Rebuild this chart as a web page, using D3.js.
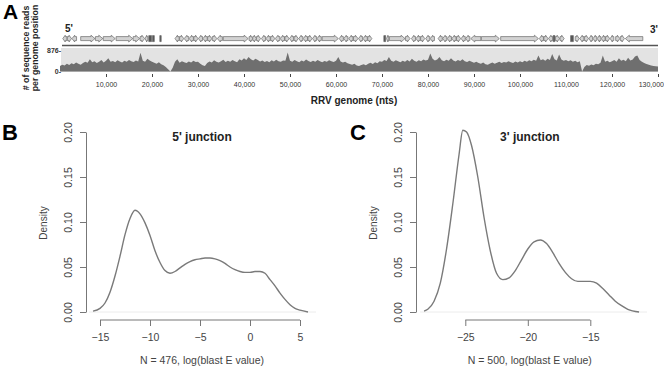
<!DOCTYPE html>
<html><head><meta charset="utf-8">
<script src="https://cdn.jsdelivr.net/npm/d3@7"></script>
<style>
html,body{margin:0;padding:0;background:#fff;}
text{font-family:"Liberation Sans",Arial,sans-serif;}
</style></head>
<body><svg id="c" width="664" height="372"></svg>
<script>
// ---------- DATA ----------
// Panel A: coverage (reads per position), one value every 500 nt, 0..130,000
const coverageStep = 500;
const coverage = [
 210,260,230,300,250,320,280,350,300,260,330,380,340,480,360,400,330,380,450,350,
 420,520,380,410,360,440,390,350,420,380,450,400,370,430,390,730,420,380,500,430,
 380,340,300,360,280,240,180,90,0,150,380,480,340,400,360,330,390,350,420,370,
 380,300,240,210,330,390,350,440,380,350,400,460,370,420,380,450,400,360,480,430,
 520,450,560,480,430,500,450,390,430,370,410,360,440,390,460,400,380,430,420,740,
 420,380,450,400,360,430,390,470,410,370,420,380,450,400,360,410,380,440,400,370,
 420,560,390,350,380,320,290,260,300,230,210,250,280,240,300,340,290,360,320,400,
 380,450,410,560,420,380,440,400,360,420,380,450,390,500,420,380,440,400,470,430,
 460,700,500,430,470,560,440,400,460,420,520,430,390,450,410,480,400,370,420,380,
 340,380,330,300,350,280,260,310,350,300,340,380,330,370,350,400,360,330,390,350,
 400,360,420,380,440,400,460,420,620,440,480,420,500,450,680,480,430,660,470,420,
 450,400,440,380,420,360,400,0,180,250,220,270,240,300,280,340,620,380,420,360,
 400,450,380,520,420,460,400,540,430,470,580,620,450,380,330,290,260,230,210,200,
 190
];
const coverageMax = 876;
const genomeTicks = [10000,20000,30000,40000,50000,60000,70000,80000,90000,100000,110000,120000,130000];
// genes: start kb, end kb, strand (1 / -1), 0 = dark block
const geneStart = [0.6,1.6,2.6,4.5,7.7,9.4,12.2,15.9,17.4,18.5,19.3,20.1,21.7,
 25.0,26.0,27.0,28.1,29.1,30.1,31.1,32.1,33.1,34.2,35.5,41.1,41.9,42.7,43.8,44.8,45.8,46.8,47.9,48.9,49.9,50.9,51.9,52.9,53.9,54.9,55.9,57.0,60.7,61.7,62.8,63.8,64.9,65.9,66.9,
 70.4,71.0,71.6,75.1,76.4,77.4,78.4,79.5,80.5,82.2,83.2,84.2,85.2,86.2,87.2,88.2,89.3,91.6,95.8,
 104.2,105.2,106.2,107.2,107.7,108.7,111.0,112.0,113.0,114.0,115.0,115.9,116.8,117.7,118.6,119.6,120.8,121.8,122.9];
const geneEnd = [1.5,2.5,3.6,7.6,9.3,12.0,15.8,17.3,18.4,19.1,19.9,20.5,22.0,
 25.9,26.9,28.0,29.0,30.0,31.0,32.0,33.0,34.1,35.3,40.9,41.9,42.7,43.6,44.7,45.7,46.7,47.8,48.8,49.8,50.8,51.8,52.8,53.8,54.8,55.8,56.8,60.5,61.6,62.6,63.7,64.8,65.8,66.8,67.8,
 70.8,71.5,75.0,76.1,77.3,78.3,79.3,80.4,81.4,83.1,84.1,85.1,86.1,87.1,88.1,89.1,91.5,95.5,104.0,
 105.1,106.1,107.1,107.6,108.6,109.6,111.6,112.9,113.9,114.9,115.8,116.7,117.6,118.5,119.5,120.4,121.7,122.7,126.7];
const geneStrand = [-1,1,-1,1,1,1,1,1,1,-1,0,0,0,
 -1,1,-1,-1,1,-1,-1,1,1,-1,1,1,1,1,-1,-1,1,-1,-1,1,-1,1,-1,-1,1,-1,-1,1,-1,-1,-1,1,-1,-1,1,
 0,-1,1,1,-1,-1,1,-1,-1,-1,-1,-1,-1,1,-1,-1,-1,1,1,
 -1,1,-1,0,1,1,0,1,-1,1,-1,-1,-1,-1,1,-1,1,1,-1];

// Panel B: 5' junction density
const bX = [-15.7,-15,-14.5,-14,-13.5,-13,-12.5,-12,-11.5,-11,-10.5,-10,-9.5,-9,-8.5,-8,-7.5,-7,-6.5,-6,-5.5,-5,-4.5,-4,-3.5,-3,-2.5,-2,-1.5,-1,-0.5,0,0.5,1,1.5,2,2.5,3,3.5,4,4.5,5,5.8];
const bY = [0.001,0.004,0.010,0.022,0.040,0.062,0.086,0.104,0.113,0.109,0.099,0.085,0.068,0.055,0.046,0.043,0.045,0.049,0.053,0.056,0.058,0.059,0.060,0.060,0.059,0.057,0.054,0.050,0.047,0.045,0.044,0.044,0.045,0.045,0.043,0.036,0.029,0.021,0.014,0.008,0.004,0.002,0.0];
const bTicks = [-15,-10,-5,0,5];
// Panel C: 3' junction density
const cX = [-28.3,-28,-27.5,-27,-26.5,-26,-25.5,-25.2,-24.9,-24.5,-24,-23.5,-23,-22.5,-22,-21.5,-21,-20.5,-20,-19.5,-19,-18.5,-18,-17.5,-17,-16.5,-16,-15.5,-15,-14.5,-14,-13.5,-13,-12.5,-12,-11.1];
const cY = [0.001,0.003,0.012,0.032,0.070,0.120,0.175,0.202,0.200,0.185,0.150,0.105,0.068,0.043,0.036,0.038,0.046,0.058,0.070,0.078,0.080,0.076,0.066,0.054,0.044,0.037,0.034,0.034,0.034,0.032,0.026,0.019,0.012,0.007,0.003,0.0];
const cTicks = [-25,-20,-15];
const yTicks = [0,0.05,0.10,0.15,0.20];

// ---------- DRAW ----------
const svg = d3.select("#c");
svg.append("rect").attr("width",664).attr("height",372).attr("fill","#fff");

// Panel A
const gx = d3.scaleLinear().domain([0,130000]).range([60,658]);
const cyS = d3.scaleLinear().domain([0,coverageMax]).range([71.5,49]);
svg.append("text").attr("x",3).attr("y",19).attr("font-size",21).attr("font-weight","bold").text("A");
svg.append("text").attr("transform","translate(28.5,48) rotate(-90)").attr("text-anchor","middle")
  .attr("font-size",8.8).attr("font-weight","bold").attr("fill","#222").text("# of sequence reads");
svg.append("text").attr("transform","translate(38,48) rotate(-90)").attr("text-anchor","middle")
  .attr("font-size",8.8).attr("font-weight","bold").attr("fill","#222").text("per genome position");
svg.append("text").attr("x",65).attr("y",32).attr("font-size",10).attr("font-weight","bold").attr("fill","#222").text("5'");
svg.append("text").attr("x",650).attr("y",33).attr("font-size",10).attr("font-weight","bold").attr("fill","#222").text("3'");

// genes
const gy = 38.6;
const genes = geneStart.map((s,i)=>({s:s*1000,e:geneEnd[i]*1000,st:geneStrand[i]}));
svg.append("g").selectAll("path").data(genes).join("path")
  .attr("d",d=>{
    const x1=gx(d.s), x2=gx(d.e), L=x2-x1;
    if(d.st===0) return `M${x1},${gy-3}H${x2}V${gy+3}H${x1}Z`;
    const h=Math.min(4,L*0.6), b=2, hh=3.4;
    if(d.st===1) return `M${x1},${gy-b}L${x2-h},${gy-b}L${x2-h},${gy-hh}L${x2},${gy}L${x2-h},${gy+hh}L${x2-h},${gy+b}L${x1},${gy+b}Z`;
    return `M${x2},${gy-b}L${x1+h},${gy-b}L${x1+h},${gy-hh}L${x1},${gy}L${x1+h},${gy+hh}L${x1+h},${gy+b}L${x2},${gy+b}Z`;
  })
  .attr("fill",d=>d.st===0?"#555":"#d2d2d2").attr("stroke","#6a6a6a").attr("stroke-width",0.7);
svg.append("line").attr("x1",62).attr("x2",658).attr("y1",45.5).attr("y2",45.5).attr("stroke","#555").attr("stroke-width",1.4);

// coverage band
svg.append("rect").attr("x",61).attr("y",48).attr("width",597).attr("height",24).attr("fill","#e3e3e3");
const area = d3.area().x((d,i)=>gx(i*coverageStep)).y0(cyS(0)).y1(d=>cyS(d));
svg.append("path").datum(coverage).attr("d",area).attr("fill","#6f6f6f");
svg.append("text").attr("x",61).attr("y",52.5).attr("text-anchor","end").attr("font-size",7).attr("font-weight","bold").attr("fill","#333").text("876-");
svg.append("text").attr("x",61).attr("y",73.5).attr("text-anchor","end").attr("font-size",7).attr("font-weight","bold").attr("fill","#333").text("0-");
const ax = svg.append("g").attr("transform","translate(0,74)")
  .call(d3.axisBottom(gx).tickValues(genomeTicks).tickSize(3).tickSizeOuter(0).tickPadding(5).tickFormat(d3.format(",")));
ax.select(".domain").remove();
ax.selectAll("line").attr("stroke","#444");
ax.selectAll("text").attr("font-size",7).attr("fill","#333").attr("font-family","Liberation Sans, Arial, sans-serif");
ax.selectAll("text").filter(d=>d===130000).attr("text-anchor","end").attr("x",5.5);
svg.append("text").attr("x",354).attr("y",104).attr("text-anchor","middle").attr("font-size",10).attr("font-weight","bold").attr("fill","#222").text("RRV genome (nts)");

// density panels
const yS = d3.scaleLinear().domain([0,0.2]).range([312,132]);
function densityPanel(letter, lx, axisX, xs, ticks, tx, ty, title, xlab){
  svg.append("text").attr("x",lx).attr("y",140).attr("font-size",22).attr("font-weight","bold").text(letter);
  // zero line
  svg.append("line").attr("x1",xs(tx[0])-4).attr("x2",xs(tx[tx.length-1])+8).attr("y1",yS(0)).attr("y2",yS(0)).attr("stroke","#ececec");
  // y axis
  const ya = svg.append("g").attr("transform",`translate(${axisX},0)`)
    .call(d3.axisLeft(yS).tickValues(yTicks).tickSize(6).tickSizeOuter(0).tickFormat(d3.format(".2f")));
  ya.select(".domain").attr("stroke","#777");
  ya.selectAll("line").attr("stroke","#777");
  ya.selectAll("text").attr("x",0).attr("dy",0).attr("transform","translate(-14,0) rotate(-90)")
    .attr("text-anchor","middle").attr("font-size",10.5).attr("fill","#444").attr("font-family","Liberation Sans, Arial, sans-serif");
  // x axis
  const xa = svg.append("g").attr("transform","translate(0,320)")
    .call(d3.axisBottom(xs).tickValues(ticks).tickSize(6).tickSizeOuter(0).tickPadding(8).tickFormat(d=>String(d).replace("-","\u2212")));
  xa.select(".domain").remove();
  xa.append("line").attr("x1",xs(ticks[0])).attr("x2",xs(ticks[ticks.length-1])).attr("stroke","#777");
  xa.selectAll("line").attr("stroke","#777");
  xa.selectAll("text").attr("font-size",10.5).attr("fill","#444").attr("font-family","Liberation Sans, Arial, sans-serif");
  // curve
  const line = d3.line().x((d,i)=>xs(tx[i])).y(d=>yS(d)).curve(d3.curveMonotoneX);
  svg.append("path").datum(ty).attr("d",line).attr("fill","none").attr("stroke","#7a7a7a").attr("stroke-width",1.4);
  const cx = (xs(ticks[0])+xs(ticks[ticks.length-1]))/2;
  svg.append("text").attr("x",cx+2).attr("y",141).attr("text-anchor","middle").attr("font-size",12).attr("font-weight","bold").attr("fill","#222").text(title);
  svg.append("text").attr("x",cx+2).attr("y",364).attr("text-anchor","middle").attr("font-size",10.5).attr("fill","#444").text(xlab);
  svg.append("text").attr("transform",`translate(${axisX-39},223) rotate(-90)`).attr("text-anchor","middle").attr("font-size",10).attr("fill","#444").text("Density");
}
const xB = d3.scaleLinear().domain([-15,5]).range([100,300]);
const xC = d3.scaleLinear().domain([-25,-15]).range([465.3,590.3]);
densityPanel("B",2,86,xB,bTicks,bX,bY,"5' junction","N = 476, log(blast E value)");
densityPanel("C",350,416,xC,cTicks,cX,cY,"3' junction","N = 500, log(blast E value)");
</script></body></html>
